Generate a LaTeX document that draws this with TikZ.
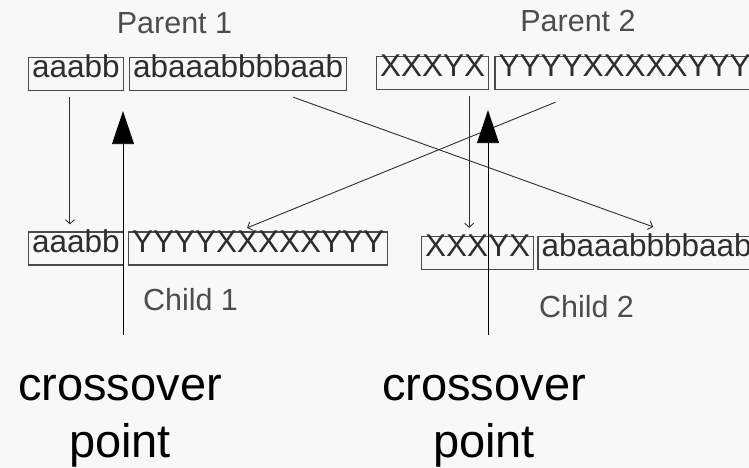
\documentclass[tikz,border=0pt]{standalone}
\usepackage{fontspec}
\setmainfont{Liberation Sans}
\usetikzlibrary{arrows.meta,positioning}
\definecolor{Ink}{HTML}{2E2E2E}
\definecolor{Frame}{HTML}{4A4A4A}
\definecolor{Paper}{HTML}{F8F8F8}

\begin{document}
\begin{tikzpicture}[x=1pt,y=-1pt,
  gene/.style={draw=Frame,line width=1.3pt,text=Ink,inner xsep=3.5pt,inner ysep=0pt,
    minimum height=33pt,text height=0.72em,text depth=0pt,anchor=west,
    font=\fontsize{31.5}{31.5}\selectfont},
  caption/.style={text=Ink!85,anchor=base,inner sep=0pt,font=\fontsize{30.5}{30.5}\selectfont},
  pointtext/.style={align=center,inner sep=0pt,font=\fontsize{47}{57}\selectfont},
  link/.style={draw=Ink,line width=0.9pt,-{Straight Barb[length=4pt,width=9pt]}},
  cut/.style={draw=black,line width=0.9pt,-{Triangle[length=33pt,width=22pt]}}]
\useasboundingbox (0,0) rectangle (749,468);
\clip (0,0) rectangle (749,468);
\fill[Paper] (0,0) rectangle (749,468);

\node[caption] (lp1) at (174.5,34) {Parent 1};
\node[caption] (lp2) at (578,32) {Parent 2};
\node[gene] (p1a) at (28,74) {aaabb};
\node[gene,right=5pt of p1a] (p1b) {abaaabbbbaab};
\node[gene] (p2a) at (376,73) {XXXYX};
\node[gene,right=5pt of p2a] (p2b) {YYYYXXXXXYYY};

\node[gene] (c1a) at (28,248.5) {aaabb};
\node[gene,right=4pt of c1a] (c1b) {YYYYXXXXXYYY};
\node[gene] (c2a) at (421,253) {XXXYX};
\node[gene,right=3pt of c2a] (c2b) {abaaabbbbaab};
\node[caption] (lc1) at (190.5,310) {Child 1};
\node[caption] (lc2) at (586.5,317) {Child 2};

\draw[link,shorten <=6pt,shorten >=7pt] ([xshift=-6pt]p1a.south) -- ([xshift=-6pt]p1a.south |- c1a.north);
\draw[link,shorten <=6pt,shorten >=8pt] ([xshift=36.5pt]p2a.south) -- ([xshift=36.5pt]p2a.south |- c2a.north);
\draw[link] ([shift={(55pt,-6pt)}]p1b.south) -- ([shift={(6.5pt,9pt)}]c2b.north);
\draw[link] ([shift={(-69pt,-12pt)}]p2b.south) -- ([shift={(-11pt,3.5pt)}]c1b.north);

\coordinate (cut1) at (123,335);
\coordinate (cut2) at (488,335);
\draw[cut,shorten >=20pt] (cut1) -- (cut1 |- p1a.south);
\draw[cut,shorten >=20pt] (cut2) -- (cut2 |- p2a.south);

\node[pointtext] (xp1) at (120,421) {crossover\\point};
\node[pointtext] (xp2) at (484,421) {crossover\\point};
\end{tikzpicture}
\end{document}
